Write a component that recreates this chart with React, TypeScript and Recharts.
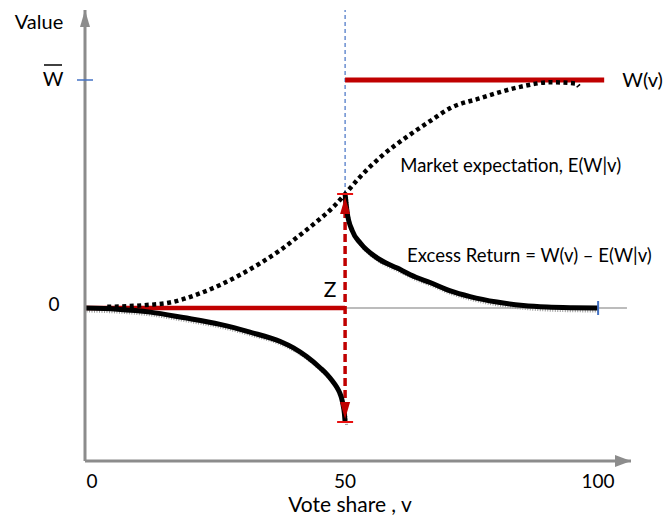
import {
  ComposedChart,
  Line,
  ReferenceDot,
  ReferenceLine,
  XAxis,
  YAxis,
} from "recharts";

const FONT = "Lato, 'Open Sans', sans-serif";
const GREY = "#8c8c8c";
const RED = "#c00000";
const BLUE = "#4472c4";

// axis ticks
const voteTicks = [0, 50, 100];
const valueTicks = [0, 1];

// W(v): zero below 50%, W-bar above
const zeroV = [-1.4, 50];
const zeroW = [0, 0];
const payoffV = [50, 101.2];
const payoffW = [1, 1];

// market expectation E(W|v)
const expV = [3, 10, 15.4, 21.3, 25.3, 29.2, 33.2, 37.2, 41.1, 44.4, 47.7, 50, 53, 56.9, 62.8, 66.8, 70.8, 76.7, 84.6, 90.5, 95.5, 96.2];
const expW = [0.005, 0.012, 0.024, 0.064, 0.101, 0.145, 0.196, 0.254, 0.32, 0.379, 0.444, 0.5, 0.576, 0.66, 0.76, 0.82, 0.877, 0.92, 0.97, 0.99, 0.985, 0.972];

// excess return, losing side
const lowV = [-1.4, 5, 11.5, 18, 25.3, 31.2, 37.2, 39.8, 42.4, 45.1, 46.5, 47.5, 48.3, 48.9, 49.3, 49.6, 49.85, 50];
const lowW = [0, -0.005, -0.018, -0.042, -0.072, -0.106, -0.147, -0.175, -0.213, -0.263, -0.293, -0.32, -0.345, -0.37, -0.395, -0.425, -0.46, -0.5];

// excess return, winning side
const highV = [50, 50.4, 51.4, 53, 56.3, 60.3, 64, 66.8, 70.8, 74.7, 80, 85.2, 89.9, 95, 100];
const highW = [0.5, 0.42, 0.34, 0.285, 0.22, 0.175, 0.135, 0.112, 0.075, 0.05, 0.026, 0.011, 0.004, 0.001, 0];

const pts = (xs: number[], ys: number[]) => xs.map((x, i) => ({ x, y: ys[i] }));

function ValueTick({ x, y, payload }: any) {
  if (payload.value === 1) {
    return (
      <g>
        <line x1={x - 8} x2={x + 8} y1={y} y2={y} stroke={BLUE} strokeWidth={1.5} />
        <text x={x - 32} y={y + 6} textAnchor="middle" fontFamily={FONT} fontSize={20} fill="#000">
          W
        </text>
        <line x1={x - 41} x2={x - 23} y1={y - 15} y2={y - 15} stroke="#000" strokeWidth={1.5} />
      </g>
    );
  }
  return (
    <text x={x - 31} y={y + 3} textAnchor="middle" fontFamily={FONT} fontSize={19} fill="#000">
      {payload.value}
    </text>
  );
}

function VoteTick({ x, y, payload }: any) {
  return (
    <text x={x} y={y + 27} textAnchor="middle" fontFamily={FONT} fontSize={19} fill="#000">
      {payload.value}
    </text>
  );
}

const note =
  (text: string, dx: number, dy: number, size: number, anchor = "start") =>
  (p: any) => (
    <text x={p.cx + dx} y={p.cy + dy} textAnchor={anchor} fontFamily={FONT} fontSize={size} fill="#000">
      {text}
    </text>
  );

const upArrow = (p: any) => (
  <polygon points={`${p.cx},${p.cy} ${p.cx - 5},${p.cy + 17} ${p.cx + 5},${p.cy + 17}`} fill={GREY} />
);
const rightArrow = (p: any) => (
  <polygon points={`${p.cx},${p.cy} ${p.cx - 16},${p.cy - 6} ${p.cx - 16},${p.cy + 6}`} fill={GREY} />
);

// end of the Z arrow: arrowhead plus cap, dir 1 = top, -1 = bottom
const zEnd = (dir: number) => (p: any) => {
  const { cx, cy } = p;
  return (
    <g>
      <polygon
        points={`${cx},${cy + dir * 3} ${cx - 5},${cy + dir * 20} ${cx + 5},${cy + dir * 20}`}
        fill={RED}
      />
      <line x1={cx - 8} x2={cx + 8} y1={cy} y2={cy} stroke="#e81010" strokeWidth={2} />
    </g>
  );
};

const endTick = (p: any) => (
  <line x1={p.cx} x2={p.cx} y1={p.cy - 7} y2={p.cy + 7} stroke={BLUE} strokeWidth={2} />
);

export default function App() {
  return (
    <div style={{ position: "absolute", left: 0, top: 0 }}>
      <ComposedChart width={665} height={521} margin={{ top: 10, right: 34, bottom: 0, left: 0 }}>
        <XAxis
          dataKey="x"
          type="number"
          domain={[-1.4, 106.5]}
          allowDataOverflow
          ticks={voteTicks}
          interval={0}
          tick={<VoteTick />}
          tickSize={0}
          tickMargin={0}
          tickLine={false}
          axisLine={{ stroke: GREY, strokeWidth: 3 }}
          height={60}
          label={(props: any) => {
            const vb = props.viewBox;
            return (
              <text
                x={vb.x + vb.width / 2 - 8}
                y={vb.y + 51}
                textAnchor="middle"
                fontFamily={FONT}
                fontSize={21}
                fill="#000"
              >
                Vote share , v
              </text>
            );
          }}
        />
        <YAxis
          type="number"
          domain={[-0.671, 1.307]}
          allowDataOverflow
          ticks={valueTicks}
          interval={0}
          tick={<ValueTick />}
          tickSize={0}
          tickMargin={0}
          tickLine={false}
          axisLine={{ stroke: GREY, strokeWidth: 3 }}
          width={85}
          label={(props: any) => {
            const vb = props.viewBox;
            return (
              <text
                x={vb.x + vb.width - 46}
                y={vb.y + 19}
                textAnchor="middle"
                fontFamily={FONT}
                fontSize={20}
                fill="#000"
              >
                Value
              </text>
            );
          }}
        />

        <ReferenceLine
          segment={[{ x: -1.4, y: 0 }, { x: 105.7, y: 0 }]}
          stroke="#a6a6a6"
          strokeWidth={1.5}
          ifOverflow="visible"
        />
        <ReferenceLine
          segment={[{ x: 50, y: 0.5 }, { x: 50, y: 1.307 }]}
          stroke={BLUE}
          strokeWidth={1.2}
          strokeDasharray="4 3"
          ifOverflow="visible"
        />
        <ReferenceLine
          segment={[{ x: 50, y: -0.5 }, { x: 50, y: 0.5 }]}
          stroke={RED}
          strokeWidth={3.5}
          strokeDasharray="8 4"
          ifOverflow="visible"
        />

        <Line data={pts(zeroV, zeroW)} dataKey="y" stroke={RED} strokeWidth={4.5} dot={false} activeDot={false} isAnimationActive={false} />
        <Line data={pts(payoffV, payoffW)} dataKey="y" stroke={RED} strokeWidth={5} dot={false} activeDot={false} isAnimationActive={false} />
        <Line
          data={pts(expV, expW)}
          dataKey="y"
          type="monotone"
          stroke="#000"
          strokeWidth={4.5}
          strokeDasharray="4 3.5"
          dot={false}
          activeDot={false}
          isAnimationActive={false}
        />

        {/* soft stippled shadow under the excess-return curves */}
        <Line data={pts(lowV, lowW)} dataKey="y" type="monotone" stroke="#9a9a9a" strokeWidth={3} strokeDasharray="1 1.5" transform="translate(1.5 3)" dot={false} activeDot={false} isAnimationActive={false} />
        <Line data={pts(highV, highW)} dataKey="y" type="monotone" stroke="#9a9a9a" strokeWidth={3} strokeDasharray="1 1.5" transform="translate(1.5 3)" dot={false} activeDot={false} isAnimationActive={false} />

        <Line data={pts(lowV, lowW)} dataKey="y" type="monotone" stroke="#000" strokeWidth={5} dot={false} activeDot={false} isAnimationActive={false} />
        <Line data={pts(highV, highW)} dataKey="y" type="monotone" stroke="#000" strokeWidth={5} dot={false} activeDot={false} isAnimationActive={false} />

        <ReferenceDot x={50} y={0.5} shape={zEnd(1)} ifOverflow="visible" />
        <ReferenceDot x={50} y={-0.5} shape={zEnd(-1)} ifOverflow="visible" />
        <ReferenceDot x={100} y={0} shape={endTick} ifOverflow="visible" />
        <ReferenceDot x={-1.4} y={1.307} shape={upArrow} ifOverflow="visible" />
        <ReferenceDot x={106.5} y={-0.671} shape={rightArrow} ifOverflow="visible" />

        <ReferenceDot x={101.2} y={1} shape={note("W(v)", 18, 7, 20)} ifOverflow="visible" />
        <ReferenceDot x={60.9} y={0.596} shape={note("Market expectation,  E(W|v)", 0, 0, 18.5)} ifOverflow="visible" />
        <ReferenceDot x={62.25} y={0.2} shape={note("Excess Return  = W(v) \u2013 E(W|v)", 0, 0, 18.5)} ifOverflow="visible" />
        <ReferenceDot x={47.04} y={0.048} shape={note("Z", 0, 0, 21, "middle")} ifOverflow="visible" />
      </ComposedChart>
    </div>
  );
}
